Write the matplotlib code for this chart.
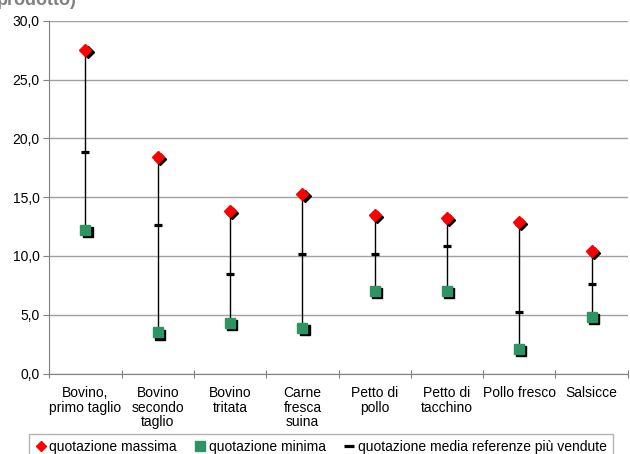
import numpy as np
import matplotlib
matplotlib.use("Agg")
import matplotlib.pyplot as plt
import matplotlib.transforms as mtransforms
from matplotlib.lines import Line2D

plt.rcParams['font.family'] = ['Liberation Sans', 'DejaVu Sans']

categories = ["Bovino,\nprimo taglio", "Bovino\nsecondo\ntaglio", "Bovino\ntritata",
              "Carne\nfresca\nsuina", "Petto di\npollo", "Petto di\ntacchino",
              "Pollo fresco", "Salsicce"]
q_max = [27.5, 18.4, 13.8, 15.3, 13.5, 13.2, 12.9, 10.4]
q_min = [12.2, 3.5, 4.3, 3.9, 7.0, 7.0, 2.1, 4.8]
q_media = [18.8, 12.6, 8.5, 10.2, 10.2, 10.8, 5.2, 7.6]

red = '#FF0000'
green = '#2E9464'
W, H = 630, 454

fig = plt.figure(figsize=(6.3, 4.54), dpi=100)
ax = fig.add_axes([49.3/W, 1 - 373.5/H, 578.4/W, (373.5 - 20.7)/H])

x = np.arange(len(categories)) + 0.5

# linee verticali min-max
ax.vlines(x, q_min, q_max, color='black', lw=1, zorder=2)

# ombre dei marker
shadow = mtransforms.offset_copy(ax.transData, fig=fig, x=1.6, y=-1.6, units='points')
ax.plot(x, q_max, ls='none', marker='D', ms=6.3, color='black', mec='black', transform=shadow, zorder=3)
ax.plot(x, q_min, ls='none', marker='s', ms=7.2, color='black', mec='black', transform=shadow, zorder=3)

ax.plot(x, q_max, ls='none', marker='D', ms=6.3, color=red, mec=red, zorder=4)
ax.plot(x, q_min, ls='none', marker='s', ms=7.2, color=green, mec=green, zorder=4)
ax.plot(x, q_media, ls='none', marker='_', ms=6, mew=2.3, color='black', zorder=4)

ax.set_xlim(0, len(categories))
ax.set_ylim(0, 30)
yt = np.arange(0, 31, 5)
ax.set_yticks(yt)
ax.set_yticklabels([f"{v:.1f}".replace('.', ',') for v in yt], fontsize=10)
ax.yaxis.grid(True, color='#a0a0a0', lw=1)
ax.set_axisbelow(True)

ax.set_xticks(np.arange(len(categories) + 1))
ax.set_xticklabels([])
ax.set_xticks(x, minor=True)
ax.set_xticklabels(categories, minor=True, fontsize=10, va='top', linespacing=1.05)
ax.tick_params(axis='x', which='minor', length=0, pad=9)
ax.tick_params(axis='x', which='major', direction='inout', length=6, color='#808080')
ax.tick_params(axis='y', direction='out', length=4, color='#808080', pad=3)

for s in ['top', 'right']:
    ax.spines[s].set_visible(False)
ax.spines['left'].set_color('#808080')
ax.spines['bottom'].set_color('#808080')

handles = [
    Line2D([], [], ls='none', marker='D', ms=5.5, color=red),
    Line2D([], [], ls='none', marker='s', ms=7, color=green),
    Line2D([], [], ls='none', marker='_', ms=7, mew=2.3, color='black'),
]
labels = ["quotazione massima", "quotazione minima", "quotazione media referenze più vendute"]
leg = fig.legend(handles, labels, loc='upper center', bbox_to_anchor=(321/W, 1 - 434/H), ncol=3,
                 fontsize=10, frameon=True, fancybox=False, edgecolor='#a0a0a0',
                 handlelength=0.8, handletextpad=0.2, columnspacing=1.3, borderpad=0.45,
                 borderaxespad=0)
leg.get_frame().set_linewidth(1)

fig.text(77/W, 1 - 5/H, "prodotto)", fontsize=13, color='#808080', fontweight='bold',
         va='baseline', ha='right')

fig.savefig("out.png", dpi=100)
